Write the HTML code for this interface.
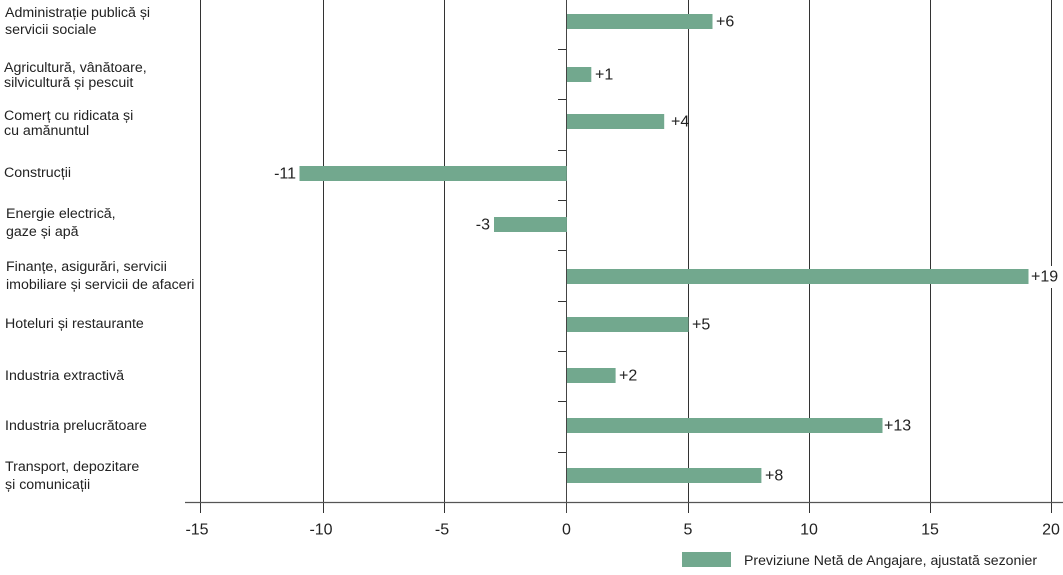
<!DOCTYPE html>
<html>
<head>
<meta charset="utf-8">
<style>
html,body{margin:0;padding:0;background:#fff;}
svg{display:block;}
text{font-family:"Liberation Sans",Arial,sans-serif;fill:#222;}
</style>
</head>
<body>
<svg width="1063" height="575" viewBox="0 0 1063 575" xmlns="http://www.w3.org/2000/svg">
  <!-- gridlines -->
  <g stroke="#333" stroke-width="1">
    <line x1="200.5" y1="0" x2="200.5" y2="513"/>
    <line x1="323.5" y1="0" x2="323.5" y2="513"/>
    <line x1="444.5" y1="0" x2="444.5" y2="513"/>
    <line x1="688.5" y1="0" x2="688.5" y2="513"/>
    <line x1="809.5" y1="0" x2="809.5" y2="513"/>
    <line x1="930.5" y1="0" x2="930.5" y2="513"/>
    <line x1="1051.5" y1="0" x2="1051.5" y2="513"/>
  </g>
  <!-- zero axis -->
  <line x1="566.5" y1="0" x2="566.5" y2="513" stroke="#444" stroke-width="1"/>
  <!-- category ticks -->
  <g stroke="#333" stroke-width="1">
    <line x1="558" y1="49.5" x2="566" y2="49.5"/>
    <line x1="558" y1="99.5" x2="566" y2="99.5"/>
    <line x1="558" y1="150.5" x2="566" y2="150.5"/>
    <line x1="558" y1="200.5" x2="566" y2="200.5"/>
    <line x1="558" y1="250.5" x2="566" y2="250.5"/>
    <line x1="558" y1="301.5" x2="566" y2="301.5"/>
    <line x1="558" y1="351.5" x2="566" y2="351.5"/>
    <line x1="558" y1="401.5" x2="566" y2="401.5"/>
    <line x1="558" y1="452.5" x2="566" y2="452.5"/>
  </g>
  <!-- horizontal axis -->
  <line x1="185" y1="502.5" x2="1063" y2="502.5" stroke="#555" stroke-width="1.2"/>

  <!-- bars -->
  <g fill="#72a88e">
    <rect x="567" y="14" width="145.5" height="15"/>
    <rect x="567" y="67" width="24.3" height="15"/>
    <rect x="567" y="114" width="97.2" height="15"/>
    <rect x="299.5" y="166" width="267.3" height="15"/>
    <rect x="494" y="217" width="72.9" height="15"/>
    <rect x="567" y="269" width="461.5" height="15"/>
    <rect x="567" y="317" width="121.5" height="15"/>
    <rect x="567" y="368" width="48.6" height="15"/>
    <rect x="567" y="418" width="315.5" height="15"/>
    <rect x="567" y="468" width="194.4" height="15"/>
  </g>

  <!-- white bg behind +19 -->
  <rect x="1030" y="266" width="33" height="22" fill="#fff"/>

  <!-- value labels -->
  <g font-size="16" dominant-baseline="central">
    <text x="716" y="22">+6</text>
    <text x="595" y="75">+1</text>
    <text x="671" y="122">+4</text>
    <text x="296" y="174" text-anchor="end">-11</text>
    <text x="490" y="225" text-anchor="end">-3</text>
    <text x="1031" y="277">+19</text>
    <text x="692" y="325">+5</text>
    <text x="619" y="376">+2</text>
    <text x="884" y="426">+13</text>
    <text x="765" y="476">+8</text>
  </g>

  <!-- category labels -->
  <g font-size="14.2" dominant-baseline="central">
    <text x="5" y="13">Administrație publică și</text>
    <text x="5" y="30">servicii sociale</text>
    <text x="4" y="68">Agricultură, vânătoare,</text>
    <text x="4" y="83">silvicultură și pescuit</text>
    <text x="4" y="116">Comerț cu ridicata și</text>
    <text x="4" y="131">cu amănuntul</text>
    <text x="4" y="173">Construcții</text>
    <text x="6" y="214">Energie electrică,</text>
    <text x="6" y="232">gaze și apă</text>
    <text x="6" y="267">Finanțe, asigurări, servicii</text>
    <text x="6" y="285">imobiliare și servicii de afaceri</text>
    <text x="5" y="324">Hoteluri și restaurante</text>
    <text x="5" y="376">Industria extractivă</text>
    <text x="5" y="426">Industria prelucrătoare</text>
    <text x="5" y="467">Transport, depozitare</text>
    <text x="5" y="485">și comunicații</text>
  </g>

  <!-- x tick labels -->
  <g font-size="16" text-anchor="middle" dominant-baseline="central">
    <text x="197" y="530">-15</text>
    <text x="321" y="530">-10</text>
    <text x="442" y="530">-5</text>
    <text x="566.5" y="530">0</text>
    <text x="688" y="530">5</text>
    <text x="809" y="530">10</text>
    <text x="930" y="530">15</text>
    <text x="1051" y="530">20</text>
  </g>

  <!-- legend -->
  <rect x="682" y="552" width="49" height="15" fill="#72a88e"/>
  <text x="744" y="560" font-size="14.1" dominant-baseline="central">Previziune Netă de Angajare, ajustată sezonier</text>
</svg>
</body>
</html>
